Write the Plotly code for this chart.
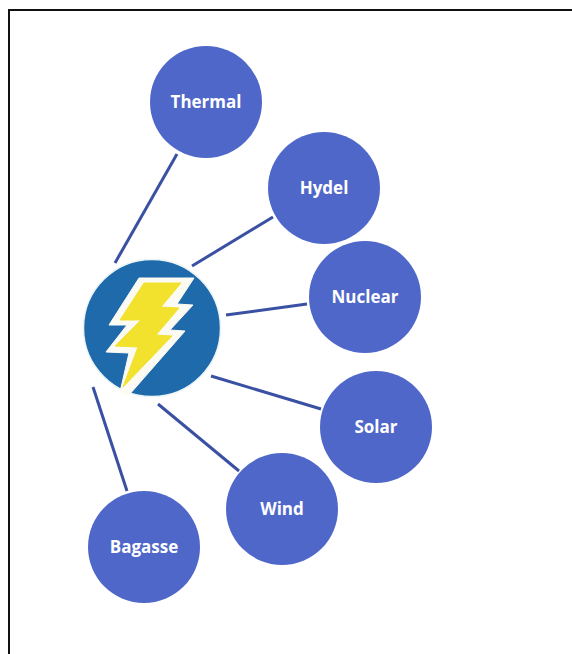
import plotly.graph_objects as go

names = ["Thermal", "Hydel", "Nuclear", "Solar", "Wind", "Bagasse"]
node_x = [206, 324, 365, 376, 282, 144]
node_y = [102, 188, 297, 427, 509, 547]
label_y = [104, 190, 299, 429, 511, 549]
link_start_x = [177, 273, 307, 321, 239, 127]
link_start_y = [154, 217, 304, 409, 471, 491]
link_end_x = [115, 192, 226, 211, 158, 93]
link_end_y = [263, 266, 315, 376, 404, 387]
hub_x = [152]
hub_y = [328]
bolt_outer_x = [139, 194, 177, 193, 170, 185, 129, 120, 129, 106, 127, 109, 139]
bolt_outer_y = [278, 278, 304, 305, 330, 331, 395, 392, 353, 352, 325, 325, 278]
bolt_inner_x = [144, 181, 161, 179, 156, 172, 123, 138, 115, 141, 120, 144]
bolt_inner_y = [283, 283, 307, 308, 335, 336, 387, 347, 346, 320, 320, 283]
frame_x = [9, 9, 572]
frame_y = [654, 10, 10]

fig = go.Figure()

fig.add_trace(go.Scatter(x=frame_x, y=frame_y, mode="lines",
                         line=dict(color="#111111", width=2)))

for x0, y0, x1, y1 in zip(link_start_x, link_start_y, link_end_x, link_end_y):
    fig.add_trace(go.Scatter(x=[x0, x1], y=[y0, y1], mode="lines",
                             line=dict(color="#3A50A3", width=3)))

fig.add_trace(go.Scatter(x=node_x, y=node_y, mode="markers",
                         marker=dict(size=112, color="#4F67C9", line=dict(width=0))))
fig.add_trace(go.Scatter(x=node_x, y=label_y, mode="text", text=names,
                         textposition="middle center",
                         textfont=dict(family="Open Sans", size=17, color="white", weight="bold")))

fig.add_trace(go.Scatter(x=hub_x, y=hub_y, mode="markers",
                         marker=dict(size=137, color="#1F6AAB",
                                     line=dict(color="#EAF4F7", width=1.5))))

fig.add_trace(go.Scatter(x=bolt_outer_x, y=bolt_outer_y, mode="lines", fill="toself",
                         fillcolor="#FBFBF4", line=dict(color="#FBFBF4", width=1)))
fig.add_trace(go.Scatter(x=bolt_inner_x, y=bolt_inner_y, mode="lines", fill="toself",
                         fillcolor="#F2E22E", line=dict(color="#F2E22E", width=1)))

fig.update_layout(
    width=572, height=654, showlegend=False,
    margin=dict(l=0, r=0, t=0, b=0),
    paper_bgcolor="white", plot_bgcolor="white",
    xaxis=dict(range=[0, 572], visible=False, fixedrange=True),
    yaxis=dict(range=[654, 0], visible=False, fixedrange=True),
)
fig.write_html("out.html", config={"displayModeBar": False},
               post_script="document.body.style.margin='0';document.body.style.overflow='hidden';window.dispatchEvent(new Event('resize'));")
